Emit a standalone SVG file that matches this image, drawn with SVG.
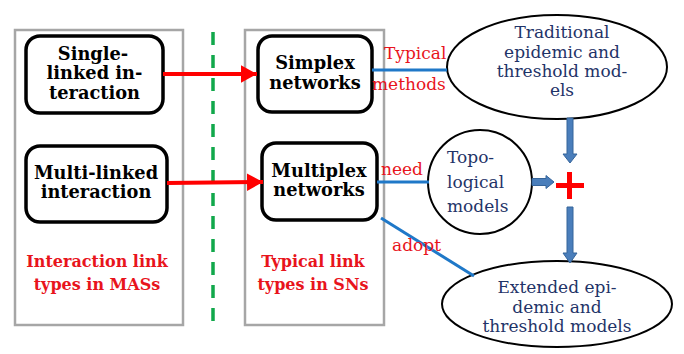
<svg xmlns="http://www.w3.org/2000/svg" width="684" height="354" viewBox="0 0 684 354">
<style>
.panel{fill:none;stroke:#a6a6a6;stroke-width:2.5}
.box{fill:#fff;stroke:#000;stroke-width:3.5}
.ell{fill:#fff;stroke:#000;stroke-width:2}
.nt{font-family:"DejaVu Serif","Liberation Serif",serif;font-weight:bold;font-size:17.8px;fill:#000;text-anchor:middle}
.lab{font-family:"DejaVu Serif","Liberation Serif",serif;font-weight:bold;font-size:16px;fill:#e8141c;text-anchor:middle}
.et{font-family:"DejaVu Serif","Liberation Serif",serif;font-size:17px;fill:#1f3468;text-anchor:middle}
.es{font-family:"DejaVu Serif","Liberation Serif",serif;font-size:17px;fill:#1f3468;text-anchor:start}
.el{font-family:"DejaVu Serif","Liberation Serif",serif;font-size:17px;fill:#e8141c}
.red{stroke:#f00;stroke-width:4;fill:none}
.blue{stroke:#1f78c8;stroke-width:3;fill:none}
.barr{fill:#4a7ebb;stroke:#35649a;stroke-width:1}
</style>
<defs>
<marker id="rh" markerWidth="4" markerHeight="4.4" refX="4" refY="2.2" orient="auto" markerUnits="strokeWidth">
<path d="M0,0 L4,2.2 L0,4.4 z" fill="#f00"/>
</marker>
</defs>
<rect class="panel" x="15" y="30" width="168" height="295"/>
<rect class="panel" x="245" y="30" width="139" height="295"/>
<line x1="213" y1="32" x2="213" y2="325" stroke="#11a84b" stroke-width="3.5" stroke-dasharray="13,10"/>
<g id="single">
<rect class="box" x="26" y="36" width="137" height="77" rx="14"/>
<text class="nt" x="93" y="59.5">Single-</text>
<text class="nt" x="94.5" y="79">linked in-</text>
<text class="nt" x="94.5" y="98.5">teraction</text>
</g>
<g id="multi">
<rect class="box" x="26" y="146" width="141" height="76" rx="14"/>
<text class="nt" x="96" y="178.5">Multi-linked</text>
<text class="nt" x="96" y="198">interaction</text>
</g>
<text class="lab" x="97" y="267">Interaction link</text>
<text class="lab" x="97" y="290">types in MASs</text>
<g id="simplex">
<rect class="box" x="258" y="36" width="114" height="76" rx="14"/>
<text class="nt" x="315" y="69">Simplex</text>
<text class="nt" x="315" y="88.5">networks</text>
</g>
<g id="multiplex">
<rect class="box" x="262" y="143" width="115" height="77" rx="14"/>
<text class="nt" x="319" y="176.5">Multiplex</text>
<text class="nt" x="319" y="196">networks</text>
</g>
<text class="lab" x="313" y="267">Typical link</text>
<text class="lab" x="313" y="290">types in SNs</text>
<g id="traditional">
<ellipse class="ell" cx="557" cy="67" rx="110" ry="52"/>
<text class="et" x="562" y="38">Traditional</text>
<text class="et" x="562" y="57.5">epidemic and</text>
<text class="et" x="562" y="76.5">threshold mod-</text>
<text class="et" x="562" y="95.5">els</text>
</g>
<g id="topological">
<circle class="ell" cx="480" cy="182" r="52"/>
<text class="es" x="447" y="163">Topo-</text>
<text class="es" x="447" y="188">logical</text>
<text class="es" x="447" y="212">models</text>
</g>
<g id="extended">
<ellipse class="ell" cx="557" cy="304" rx="115" ry="43"/>
<text class="et" x="557" y="293">Extended epi-</text>
<text class="et" x="557" y="312.5">demic and</text>
<text class="et" x="557" y="332">threshold models</text>
</g>
<g id="plus">
<rect x="556" y="183" width="28" height="5" fill="#f00"/>
<rect x="567" y="172" width="5" height="27" fill="#f00"/>
</g>
<g id="connectors">
<line class="red" x1="163" y1="74" x2="257" y2="74" marker-end="url(#rh)"/>
<line class="red" x1="167" y1="183" x2="263" y2="182" marker-end="url(#rh)"/>
<line class="blue" x1="372" y1="70" x2="447" y2="70"/>
<line class="blue" x1="377" y1="182" x2="429" y2="182"/>
<line class="blue" x1="381" y1="218" x2="474" y2="276"/>
<path class="barr" d="M567,118 L573,118 L573,154 L577,154 L570,163 L563,154 L567,154 z"/>
<path class="barr" d="M532,178.5 L546,178.5 L546,175.5 L554,182 L546,188.5 L546,185.5 L532,185.5 z"/>
<path class="barr" d="M567,207 L573,207 L573,253 L577,253 L570,263 L563,253 L567,253 z"/>
</g>
<text class="el" x="384" y="59">Typical</text>
<text class="el" x="372" y="90">methods</text>
<text class="el" x="381" y="175">need</text>
<text class="el" x="392" y="251">adopt</text>
</svg>
